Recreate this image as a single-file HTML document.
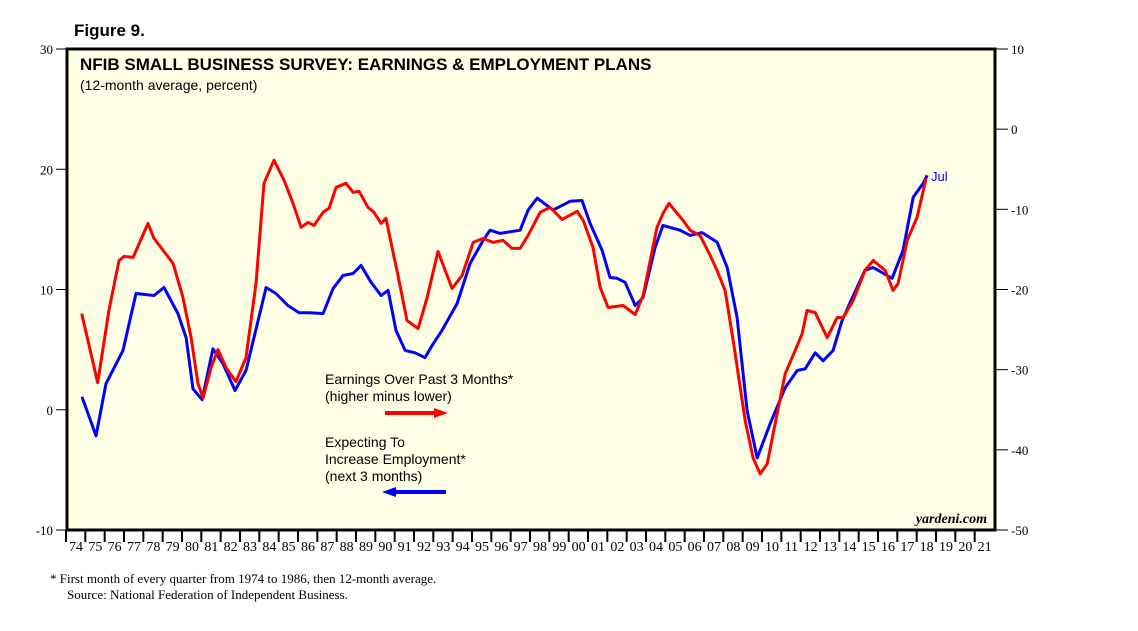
<!DOCTYPE html>
<html><head><meta charset="utf-8"><style>
body{margin:0;background:#fff;}
svg{display:block;font-family:"Liberation Sans",sans-serif;}
</style></head><body>
<svg id="chart" width="1138" height="631">
<text x="74" y="36" font-size="17" font-weight="bold">Figure 9.</text>
<rect x="67" y="49" width="928" height="481" fill="#ffffe6" stroke="#000" stroke-width="3"/>
<text x="80" y="70" font-size="17" font-weight="bold">NFIB SMALL BUSINESS SURVEY: EARNINGS &amp; EMPLOYMENT PLANS</text>
<text x="80" y="90" font-size="14">(12-month average, percent)</text>
<g id="axes"></g>
<g id="series"></g>
<text x="931" y="181" font-size="13" fill="#0000ff">Jul</text>
<text x="325" y="384" font-size="14">Earnings Over Past 3 Months*</text>
<text x="325" y="401" font-size="14">(higher minus lower)</text>
<g><line x1="385" y1="413" x2="436" y2="413" stroke="#f00" stroke-width="4"/><polygon points="434,408 448,413 434,418" fill="#f00"/></g>
<text x="325" y="447" font-size="14">Expecting To</text>
<text x="325" y="464" font-size="14">Increase Employment*</text>
<text x="325" y="481" font-size="14">(next 3 months)</text>
<g><line x1="394" y1="492" x2="446" y2="492" stroke="#00f" stroke-width="4"/><polygon points="396,487 382,492 396,497" fill="#00f"/></g>
<text x="987" y="523" font-size="14" font-style="italic" font-weight="bold" text-anchor="end" font-family="Liberation Serif,serif">yardeni.com</text>
<text x="50" y="583" font-size="13" font-family="Liberation Serif,serif">*   First month of every quarter from 1974 to 1986, then 12-month average.</text>
<text x="67" y="599" font-size="13" font-family="Liberation Serif,serif">Source: National Federation of Independent Business.</text>
</svg>
<script>
const leftTicks=[30,20,10,0,-10];
const rightTicks=[10,0,-10,-20,-30,-40,-50];
const yearLabels=["74","75","76","77","78","79","80","81","82","83","84","85","86","87","88","89","90","91","92","93","94","95","96","97","98","99","00","01","02","03","04","05","06","07","08","09","10","11","12","13","14","15","16","17","18","19","20","21"];
const redDates=[1974.81,1975.64,1976.22,1976.74,1977.0,1977.47,1978.24,1978.55,1979.02,1979.54,1980.05,1980.47,1980.83,1981.09,1981.5,1981.86,1982.28,1982.79,1983.31,1983.83,1984.24,1984.76,1985.28,1985.74,1986.16,1986.52,1986.83,1987.3,1987.61,1987.97,1988.49,1988.85,1989.16,1989.62,1989.93,1990.3,1990.55,1990.97,1991.12,1991.64,1992.21,1992.68,1993.24,1993.97,1994.49,1995.06,1995.57,1996.09,1996.61,1997.07,1997.49,1997.9,1998.52,1999.04,1999.66,2000.44,2000.75,2001.26,2001.63,2002.04,2002.82,2003.44,2003.85,2004.57,2004.88,2005.19,2005.61,2005.92,2006.28,2006.8,2007.32,2007.68,2008.09,2008.51,2009.13,2009.54,2009.9,2010.27,2010.68,2011.2,2011.71,2012.08,2012.33,2012.75,2013.37,2013.89,2014.2,2014.71,2015.33,2015.75,2016.37,2016.78,2017.04,2017.51,2018.02,2018.49];
const redValues=[8.0,2.25,8.25,12.4,12.75,12.67,15.5,14.25,13.25,12.17,9.33,6.0,2.17,1.0,3.5,5.0,3.5,2.33,4.33,10.5,18.83,20.75,19.08,17.17,15.17,15.58,15.33,16.42,16.75,18.5,18.83,18.08,18.17,16.83,16.42,15.5,15.92,12.67,11.58,7.42,6.75,9.33,13.17,10.08,11.17,13.92,14.25,13.92,14.08,13.42,13.42,14.5,16.42,16.83,15.83,16.5,15.75,13.5,10.17,8.5,8.67,7.92,9.5,15.17,16.33,17.17,16.33,15.75,14.92,14.5,12.83,11.58,9.92,5.75,-0.92,-4.0,-5.33,-4.5,-1.17,3.0,4.92,6.33,8.25,8.08,6.0,7.67,7.67,9.08,11.58,12.42,11.58,9.92,10.5,14.08,16.0,19.25];
const blueDates=[1974.83,1975.55,1976.07,1976.95,1977.62,1978.55,1979.07,1979.79,1980.21,1980.57,1981.04,1981.6,1982.12,1982.74,1983.31,1984.35,1984.86,1985.48,1986.05,1986.57,1987.3,1987.81,1988.33,1988.85,1989.26,1989.78,1990.3,1990.66,1991.07,1991.54,1992.05,1992.57,1992.93,1993.45,1994.23,1994.9,1995.57,1995.93,1996.45,1997.49,1997.9,1998.37,1999.19,2000.07,2000.69,2001.11,2001.73,2002.14,2002.5,2002.92,2003.44,2003.85,2004.47,2004.88,2005.76,2006.28,2006.9,2007.68,2008.2,2008.71,2009.23,2009.75,2010.42,2011.2,2011.82,2012.23,2012.75,2013.16,2013.68,2014.14,2014.56,2015.33,2015.75,2016.47,2016.73,2017.3,2017.82,2018.34,2018.54];
const blueValues=[-33.4,-38.25,-31.75,-27.6,-20.5,-20.75,-19.75,-23.0,-26.0,-32.4,-33.75,-27.4,-29.25,-32.6,-30.1,-19.75,-20.5,-22.0,-22.9,-22.9,-23.0,-19.9,-18.25,-18.0,-17.0,-19.1,-20.75,-20.1,-25.1,-27.6,-27.9,-28.5,-27.0,-25.1,-21.75,-16.75,-13.9,-12.6,-13.0,-12.6,-10.1,-8.6,-10.1,-9.0,-8.9,-11.75,-15.1,-18.5,-18.6,-19.1,-22.0,-21.0,-14.75,-12.0,-12.6,-13.25,-12.9,-14.1,-17.25,-23.5,-35.1,-41.0,-36.75,-32.25,-30.1,-29.9,-27.9,-28.9,-27.6,-23.9,-21.6,-17.6,-17.25,-18.25,-18.6,-15.1,-8.5,-6.75,-5.75];

const NS="http://www.w3.org/2000/svg";
const X0=66,X1=994,Y0=49,Y1=530;
const xScale=d=>X0+(d-1974)/48*(X1-X0);
const yLeft=v=>Y1-(v+10)/40*(Y1-Y0);
const yRight=v=>Y1-(v+50)/60*(Y1-Y0);
function mk(tag,attrs,parent){const e=document.createElementNS(NS,tag);for(const k in attrs)e.setAttribute(k,attrs[k]);parent.appendChild(e);return e;}
const axes=document.getElementById('axes');
leftTicks.forEach(t=>{
  const y=yLeft(t);
  const l=mk('line',{x1:56,x2:66,y1:y,y2:y,stroke:'#000','stroke-width':1},axes);
  
  
  const tx=mk('text',{x:53,y:y+5,'font-size':13,'text-anchor':'end','font-family':'Liberation Serif,serif'},axes);
  tx.textContent=t;
  
  
});
rightTicks.forEach(t=>{
  const y=yRight(t);
  const l=mk('line',{x1:996,x2:1008,y1:y,y2:y,stroke:'#000','stroke-width':1},axes);
  
  
  const tx=mk('text',{x:1011,y:y+5,'font-size':13,'font-family':'Liberation Serif,serif'},axes);
  tx.textContent=t;
  
  
});
yearLabels.forEach((lab,i)=>{
  const x=xScale(1974+i);
  const l=mk('line',{x1:x,x2:x,y1:530,y2:542,stroke:'#000','stroke-width':2},axes);
  
  
  const tx=mk('text',{x:x+10,y:551,'font-size':14,'text-anchor':'middle','font-family':'Liberation Serif,serif'},axes);
  tx.textContent=lab;
  
  
});
const ser=document.getElementById('series');
const bp=blueDates.map((d,i)=>xScale(d).toFixed(1)+','+yRight(blueValues[i]).toFixed(1)).join(' ');
const b=mk('polyline',{points:bp,fill:'none',stroke:'#0000ff','stroke-width':3,'stroke-linejoin':'round'},ser);


const rp=redDates.map((d,i)=>xScale(d).toFixed(1)+','+yLeft(redValues[i]).toFixed(1)).join(' ');
const r=mk('polyline',{points:rp,fill:'none',stroke:'#ff0000','stroke-width':3,'stroke-linejoin':'round'},ser);


</script>
</body></html>
